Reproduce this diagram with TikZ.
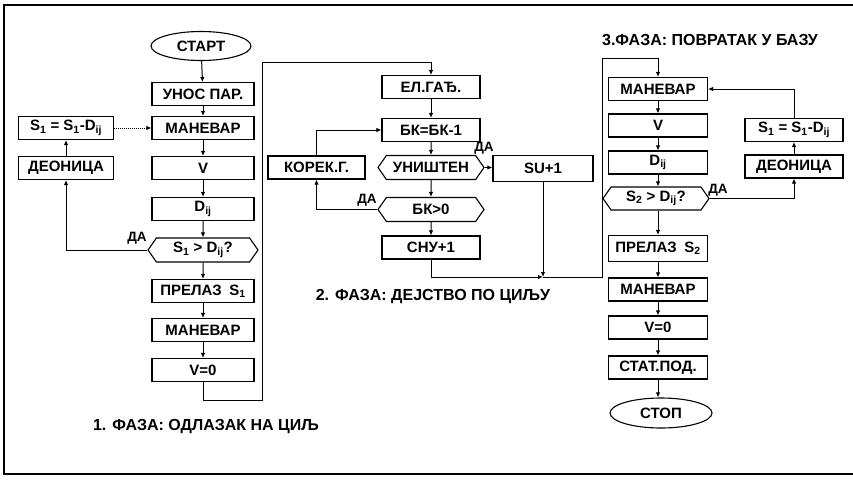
\documentclass[tikz,border=0pt]{standalone}
\usepackage{fontspec}
\setmainfont{Liberation Sans}
\usetikzlibrary{shapes.geometric,shapes.symbols,arrows.meta}
\begin{document}
\begin{tikzpicture}[x=1pt,y=-1pt,
  font=\fontsize{15}{17}\selectfont\bfseries,
  every node/.style={inner sep=0pt},
  box/.style={draw, line width=1.1pt, minimum width=#1, minimum height=23pt},
  box/.default=100pt,
  hexa/.style={draw, line width=1.1pt, signal, signal to=east and west, signal pointer angle=110, minimum width=#1, minimum height=24pt},
  hexa/.default=106pt,
  term/.style={draw, ellipse, line width=1.1pt, minimum width=100pt, minimum height=29pt},
  arr/.style={-{Latex[length=5pt,width=4.5pt]}, line width=1pt},
  ln/.style={line width=1pt},
  lbl/.style={font=\fontsize{13.5}{15}\selectfont\bfseries},
  title/.style={font=\fontsize{16}{18}\selectfont\bfseries}
]
\useasboundingbox (0,0) rectangle (853,479);
\draw[line width=1.3pt] (853,5) -- (4,5) -- (4,474) -- (853,474);

% column 1
\node[term] (start) at (201,46) {СТАРТ};
\node[box=102pt] (unos) at (203,94) {УНОС ПАР.};
\node[box=102pt] (man1) at (203,128) {МАНЕВАР};
\node[box=102pt] (v1) at (203,168) {V};
\node[box=102pt] (d1) at (203,209) {D\textsubscript{ij}};
\node[hexa=110pt] (h1) at (203,250) {S\textsubscript{1} > D\textsubscript{ij}?};
\node[box=102pt] (pr1) at (203,291) {ПРЕЛАЗ\enspace S\textsubscript{1}};
\node[box=102pt] (man2) at (203,330) {МАНЕВАР};
\node[box=102pt] (v01) at (203,370) {V=0};
\node[box=95pt] (s1l) at (66,128) {S\textsubscript{1} = S\textsubscript{1}-D\textsubscript{ij}};
\node[box=95pt] (deonl) at (66,168) {ДЕОНИЦА};

\draw[arr] (start) -- (unos);
\draw[arr] (unos) -- (man1);
\draw[arr] (man1) -- (v1);
\draw[arr] (v1) -- (d1);
\draw[arr] (d1) -- (h1);
\draw[arr] (h1) -- (pr1);
\draw[arr] (pr1) -- (man2);
\draw[arr] (man2) -- (v01);
\draw[arr, densely dotted] (s1l) -- (man1);
\draw[arr] (h1.west) -| (deonl.south);
\draw[arr] (deonl) -- (s1l);
\node[lbl] (da1) at (137,238) {ДА};

% column 2
\node[box=98pt] (elg) at (431,87) {ЕЛ.ГАЂ.};
\node[box=98pt] (bk) at (431,130) {БК=БК-1};
\node[hexa=106pt] (un) at (431,167.5) {УНИШТЕН};
\node[hexa=106pt] (bk0) at (431,209.5) {БК>0};
\node[box=98pt] (snu) at (431,247.5) {СНУ+1};
\node[box=97pt] (kor) at (316.5,167.5) {КОРЕК.Г.};
\node[box=100pt, minimum height=26pt] (su) at (543,168.5) {SU+1};

\coordinate (c1) at (262,400);
\coordinate (c2) at (262,62);
\draw[arr] (v01.south) |- (c1) -- (c2) -| (elg.north);

\draw[arr] (elg) -- (bk);
\draw[arr] (bk) -- (un);
\draw[arr] (un) -- (bk0);
\draw[arr] (bk0) -- (snu);
\draw[arr] (un.east) -- (un.east -| su.west);
\draw[arr] (bk0.west) -| (kor.south);
\draw[arr] (kor.north) |- (bk.west);
\node[lbl] (da2) at (484,148) {ДА};
\node[lbl] (da3) at (367,200) {ДА};

\coordinate (j) at (543,277);
\coordinate (c3) at (602,58);
\draw[arr] (snu.south) |- (j);
\draw[arr] (su.south) -- (j);

% column 3
\node[box=99pt] (man3) at (658,89) {МАНЕВАР};
\node[box=99pt] (v3) at (658,125.5) {V};
\node[box=99pt] (d3) at (658,162.5) {D\textsubscript{ij}};
\node[hexa=106pt, minimum height=23pt] (h3) at (656,198.5) {S\textsubscript{2} > D\textsubscript{ij}?};
\node[box=99pt, minimum height=26pt] (pr2) at (658,248.5) {ПРЕЛАЗ\enspace S\textsubscript{2}};
\node[box=99pt] (man4) at (658,289.5) {МАНЕВАР};
\node[box=99pt] (v03) at (658,327.5) {V=0};
\node[box=99pt] (stat) at (658,367.5) {СТАТ.ПОД.};
\node[term, minimum width=102pt, minimum height=30pt] (stop) at (661,413) {СТОП};
\node[box=98pt] (s1r) at (794,130) {S\textsubscript{1} = S\textsubscript{1}-D\textsubscript{ij}};
\node[box=98pt] (deonr) at (794,166.5) {ДЕОНИЦА};

\draw[arr] (j) -| (c3) -| (man3.north);
\draw[arr] (man3) -- (v3);
\draw[arr] (v3) -- (d3);
\draw[arr] (d3) -- (h3.north -| d3);
\draw[arr] (h3.south -| pr2) -- (pr2);
\draw[arr] (pr2) -- (man4);
\draw[arr] (man4) -- (v03);
\draw[arr] (v03) -- (stat);
\draw[arr] (stat.south) -- (stat.south |- stop.north);
\draw[arr] (h3.east) -| (deonr.south);
\draw[arr] (deonr) -- (s1r);
\draw[arr] (s1r.north) |- (man3.east);
\node[lbl] (da4) at (718,190) {ДА};

% titles
\node[title] (t1) at (206,427) {1. ФАЗА: ОДЛАЗАК НА ЦИЉ};
\node[title] (t2) at (433,297) {2. ФАЗА: ДЕЈСТВО ПО ЦИЉУ};
\node[title] (t3) at (710,40) {3.ФАЗА: ПОВРАТАК У БАЗУ};
\end{tikzpicture}
\end{document}
